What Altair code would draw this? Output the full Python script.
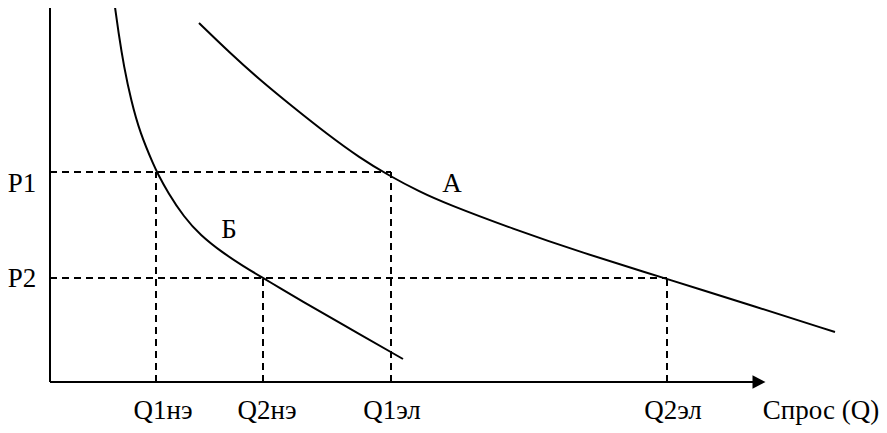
import altair as alt
import pandas as pd

# Key quantities and prices (chart units, origin at the axes' corner)
q_ticks = ["Q1нэ", "Q2нэ", "Q1эл", "Q2эл"]
q_vals = [106, 213, 341, 617]
p_ticks = ["P1", "P2"]
p_vals = [210, 104]

# Curve Б (inelastic demand)
b_q = [64, 68.5, 74, 81, 90, 104.5, 107, 118, 134, 150, 173, 193, 213, 230, 250, 290, 353]
b_p = [382, 349, 315, 282, 249, 215, 210, 189, 165, 147, 129, 116, 104, 94, 82, 59, 23]

# Curve А (elastic demand)
a_q = [149, 180, 210, 243, 277, 310, 338, 370, 397, 463, 530, 617, 697, 785]
a_p = [359, 329, 302, 275, 248, 224, 207, 190, 178, 153, 130, 103, 78, 50]

# Annotation texts and their anchor points (chart units)
ann_text = ["P1", "P2", "А", "Б", "Q1нэ", "Q2нэ", "Q1эл", "Q2эл", "Спрос (Q)"]
ann_q = [-28, -28, 402, 179, 113, 217, 342, 623, 771]
ann_p = [190, 95, 190, 144, -37, -37, -37, -37, -37]

# Axis extents
axis_q_end = 705
axis_p_end = 382
arrow_q = 709

xs = alt.Scale(domain=[-42, 829], nice=False, zero=False)
ys = alt.Scale(domain=[-43, 374], nice=False, zero=False)

curves = pd.DataFrame(
    [{"curve": "Б", "q": q, "p": p, "i": i} for i, (q, p) in enumerate(zip(b_q, b_p))]
    + [{"curve": "А", "q": q, "p": p, "i": i} for i, (q, p) in enumerate(zip(a_q, a_p))]
)

seg = []
# horizontal guides P1 -> Q1эл, P2 -> Q2эл
seg.append({"q": 0, "p": p_vals[0], "q2": q_vals[2], "p2": p_vals[0]})
seg.append({"q": 0, "p": p_vals[1], "q2": q_vals[3], "p2": p_vals[1]})
# vertical guides
seg.append({"q": q_vals[0], "p": 0, "q2": q_vals[0], "p2": p_vals[0]})
seg.append({"q": q_vals[1], "p": 0, "q2": q_vals[1], "p2": p_vals[1]})
seg.append({"q": q_vals[2], "p": 0, "q2": q_vals[2], "p2": p_vals[0]})
seg.append({"q": q_vals[3], "p": 0, "q2": q_vals[3], "p2": p_vals[1]})
segs = pd.DataFrame(seg)

axes = pd.DataFrame([
    {"q": 0, "p": 0, "q2": 0, "p2": axis_p_end},
    {"q": 0, "p": 0, "q2": axis_q_end, "p2": 0},
])

arrow = pd.DataFrame([{"q": arrow_q, "p": 0}])
ann = pd.DataFrame({"t": ann_text, "q": ann_q, "p": ann_p})

dashed = alt.Chart(segs).mark_rule(
    color="black", strokeWidth=2, strokeDash=[7, 5]
).encode(
    x=alt.X("q:Q", scale=xs, axis=None),
    y=alt.Y("p:Q", scale=ys, axis=None),
    x2="q2:Q", y2="p2:Q",
)

axis_lines = alt.Chart(axes).mark_rule(color="black", strokeWidth=2).encode(
    x=alt.X("q:Q", scale=xs, axis=None),
    y=alt.Y("p:Q", scale=ys, axis=None),
    x2="q2:Q", y2="p2:Q",
)

arrow_head = alt.Chart(arrow).mark_point(
    shape="M-1,-1.05L1,0L-1,1.05Z", size=169, filled=True, color="black", opacity=1
).encode(
    x=alt.X("q:Q", scale=xs, axis=None),
    y=alt.Y("p:Q", scale=ys, axis=None),
)

lines = alt.Chart(curves).mark_line(
    color="black", strokeWidth=2, interpolate="basis"
).encode(
    x=alt.X("q:Q", scale=xs, axis=None),
    y=alt.Y("p:Q", scale=ys, axis=None),
    detail="curve:N",
    order="i:Q",
)

texts = alt.Chart(ann).mark_text(
    font="Liberation Serif", fontSize=27, color="black", align="center", baseline="alphabetic"
).encode(
    x=alt.X("q:Q", scale=xs, axis=None),
    y=alt.Y("p:Q", scale=ys, axis=None),
    text="t:N",
)

chart = alt.layer(dashed, axis_lines, arrow_head, lines, texts).properties(
    width=871, height=417, padding=0, autosize=alt.AutoSizeParams(type="none"),
    background="white",
).configure_view(stroke=None)

chart.save("out.html", embed_options={"renderer": "svg", "actions": False})
